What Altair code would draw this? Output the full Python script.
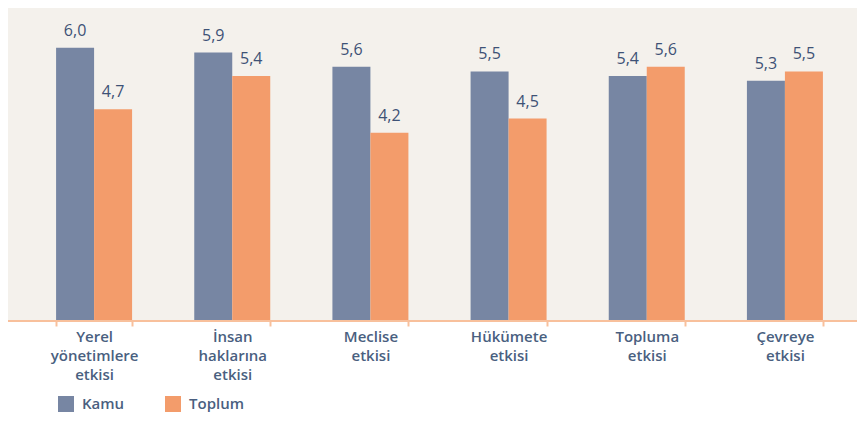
import altair as alt
import pandas as pd

categories = ["Yerel\nyönetimlere\netkisi", "İnsan\nhaklarına\netkisi", "Meclise\netkisi",
              "Hükümete\netkisi", "Topluma\netkisi", "Çevreye\netkisi"]
kamu = [6.0, 5.9, 5.6, 5.5, 5.4, 5.3]
toplum = [4.7, 5.4, 4.2, 4.5, 5.6, 5.5]
groups = ["Kamu", "Toplum"]
colors = ["#7786a3", "#f39c6b"]

rows = []
for i, c in enumerate(categories):
    rows.append({"cat": c, "grp": "Kamu", "val": kamu[i], "lbl": f"{kamu[i]:.1f}".replace(".", ",")})
    rows.append({"cat": c, "grp": "Toplum", "val": toplum[i], "lbl": f"{toplum[i]:.1f}".replace(".", ",")})
df = pd.DataFrame(rows)

W, H = 829, 300
YMIN, YMAX = 0.233, 6.589
FONT = "Open Sans"
TEXTC = "#4a5f80"

xenc = alt.X("cat:N", sort=categories, title=None,
             scale=alt.Scale(paddingInner=0.45, paddingOuter=0.225),
             axis=alt.Axis(domain=False, tickBand="extent", tickColor="#f8c09c", tickWidth=2,
                           tickSize=6, labelAngle=0, labelBaseline="top", labelPadding=3,
                           labelExpr="split(datum.label, '\\n')", labelFont=FONT,
                           labelFontSize=15, labelFontWeight=600, labelColor=TEXTC,
                           labelLineHeight=19, labelLimit=200))
yenc = alt.Y("val:Q", scale=alt.Scale(domain=[YMIN, YMAX], zero=False, nice=False), axis=None)

bg = alt.Chart(alt.Data(values=[{"a": 1}])).mark_rect(color="#f4f1ec").encode(
    x=alt.value(-17), x2=alt.value(835), y=alt.value(-12), y2=alt.value(H))

base = alt.Chart(df)
bars = base.mark_bar().encode(
    x=xenc,
    xOffset=alt.XOffset("grp:N", sort=groups, scale=alt.Scale(paddingInner=0)),
    y=yenc,
    y2=alt.datum(YMIN),
    color=alt.Color("grp:N", sort=groups, scale=alt.Scale(domain=groups, range=colors),
                    legend=alt.Legend(title=None, orient="none", legendX=33, legendY=376,
                                      direction="horizontal", symbolType="square", symbolSize=256,
                                      symbolStrokeWidth=0, symbolOpacity=1, labelFont=FONT,
                                      labelFontSize=15, labelFontWeight=600, labelColor=TEXTC,
                                      labelOffset=8, columnPadding=40, padding=0)),
)
labels = base.mark_text(dy=-9, baseline="bottom", font=FONT, fontSize=16, color="#3e5276").encode(
    x=alt.X("cat:N", sort=categories),
    xOffset=alt.XOffset("grp:N", sort=groups),
    y=yenc,
    text="lbl:N",
)
axisline = alt.Chart(alt.Data(values=[{"a": 1}])).mark_rule(color="#f8c09c", strokeWidth=2).encode(
    x=alt.value(-17), x2=alt.value(835), y=alt.value(H + 1))

chart = alt.layer(bg, bars, labels, axisline).properties(
    width=W, height=H,
    autosize=alt.AutoSizeParams(type="none"),
    padding={"left": 17, "top": 12, "right": 3, "bottom": 93},
    background="white",
).configure_view(stroke=None)

chart.save("out.html", embed_options={"renderer": "svg", "actions": False})
